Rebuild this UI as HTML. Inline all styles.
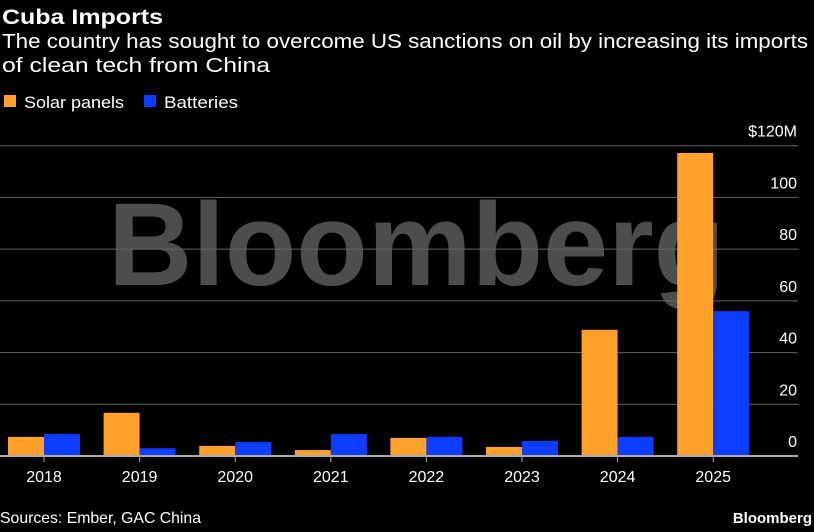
<!DOCTYPE html>
<html><head><meta charset="utf-8"><style>
body{margin:0;background:#000;width:814px;height:527px;overflow:hidden;font-family:"Liberation Sans",sans-serif;color:#fff}
</style></head><body>
<svg width="814" height="527" xmlns="http://www.w3.org/2000/svg">
<text x="2" y="24" font-size="21" font-weight="bold" fill="#fff" textLength="161" lengthAdjust="spacingAndGlyphs">Cuba Imports</text>
<text x="2" y="48" font-size="20" fill="#fff" textLength="806" lengthAdjust="spacingAndGlyphs">The country has sought to overcome US sanctions on oil by increasing its imports</text>
<text x="2" y="72" font-size="20" fill="#fff" textLength="268" lengthAdjust="spacingAndGlyphs">of clean tech from China</text>
<g>
<rect x="4" y="95" width="12" height="12" fill="#ffa12c"/>
<text x="24" y="108" font-size="17" fill="#fff" textLength="100" lengthAdjust="spacingAndGlyphs">Solar panels</text>
<rect x="144" y="95" width="12" height="12" fill="#0f3dff"/>
<text x="164" y="108" font-size="17" fill="#fff" textLength="74" lengthAdjust="spacingAndGlyphs">Batteries</text>
</g>
<text x="108" y="285" font-size="118" font-weight="bold" fill="#fff" fill-opacity="0.3" textLength="617" lengthAdjust="spacingAndGlyphs">Bloomberg</text>
<g id="grid"></g><g id="bars"></g><g id="xaxis"></g>
<text x="0" y="523" font-size="16" fill="#fff" textLength="201" lengthAdjust="spacingAndGlyphs">Sources: Ember, GAC China</text>
<text x="812" y="523" font-size="15" font-weight="bold" fill="#fff" text-anchor="end">Bloomberg</text>
</svg>
<script>
const categories=["2018","2019","2020","2021","2022","2023","2024","2025"];
const solar=[7.4,16.7,3.9,2.3,7,3.5,48.8,117.2];
const batteries=[8.5,3,5.4,8.5,7.4,5.8,7.4,56];
const yTicks=[0,20,40,60,80,100,120];
const yTickLabels=["0","20","40","60","80","100","$120M"];
const NS="http://www.w3.org/2000/svg";
const y0=456,yPer=(456-145.7)/120;
function yScale(v){return y0-v*yPer;}
function xScale(i){return 44+i*95.6;}
function mk(t,a,p){const e=document.createElementNS(NS,t);for(const k in a)e.setAttribute(k,a[k]);p.appendChild(e);return e;}
const grid=document.getElementById('grid'),bars=document.getElementById('bars'),xa=document.getElementById('xaxis');
yTicks.forEach((v,i)=>{
 if(v>0){const l=mk('line',{x1:0,x2:798,y1:yScale(v),y2:yScale(v),stroke:'#666','stroke-width':1},grid);
 
 }
 const t=mk('text',{x:797,y:yScale(v)-9,'font-size':16,fill:'#fff','text-anchor':'end'},grid);t.textContent=yTickLabels[i];
 
 
});
categories.forEach((c,i)=>{
 const cx=xScale(i);
 const s=mk('rect',{x:cx-36,y:yScale(solar[i]),width:36,height:y0-yScale(solar[i]),fill:'#ffa12c'},bars);
 
 
 const b=mk('rect',{x:cx,y:yScale(batteries[i]),width:36,height:y0-yScale(batteries[i]),fill:'#0f3dff'},bars);
 
 
 const tk=mk('line',{x1:cx,x2:cx,y1:y0,y2:y0+6,stroke:'#aaa','stroke-width':1},xa);
 
 
 const t=mk('text',{x:cx,y:482,'font-size':16,fill:'#fff','text-anchor':'middle'},xa);t.textContent=c;
 
 
});
const ax=mk('line',{x1:0,x2:798,y1:y0,y2:y0,stroke:'#aaa','stroke-width':2},xa);


</script>
</body></html>
